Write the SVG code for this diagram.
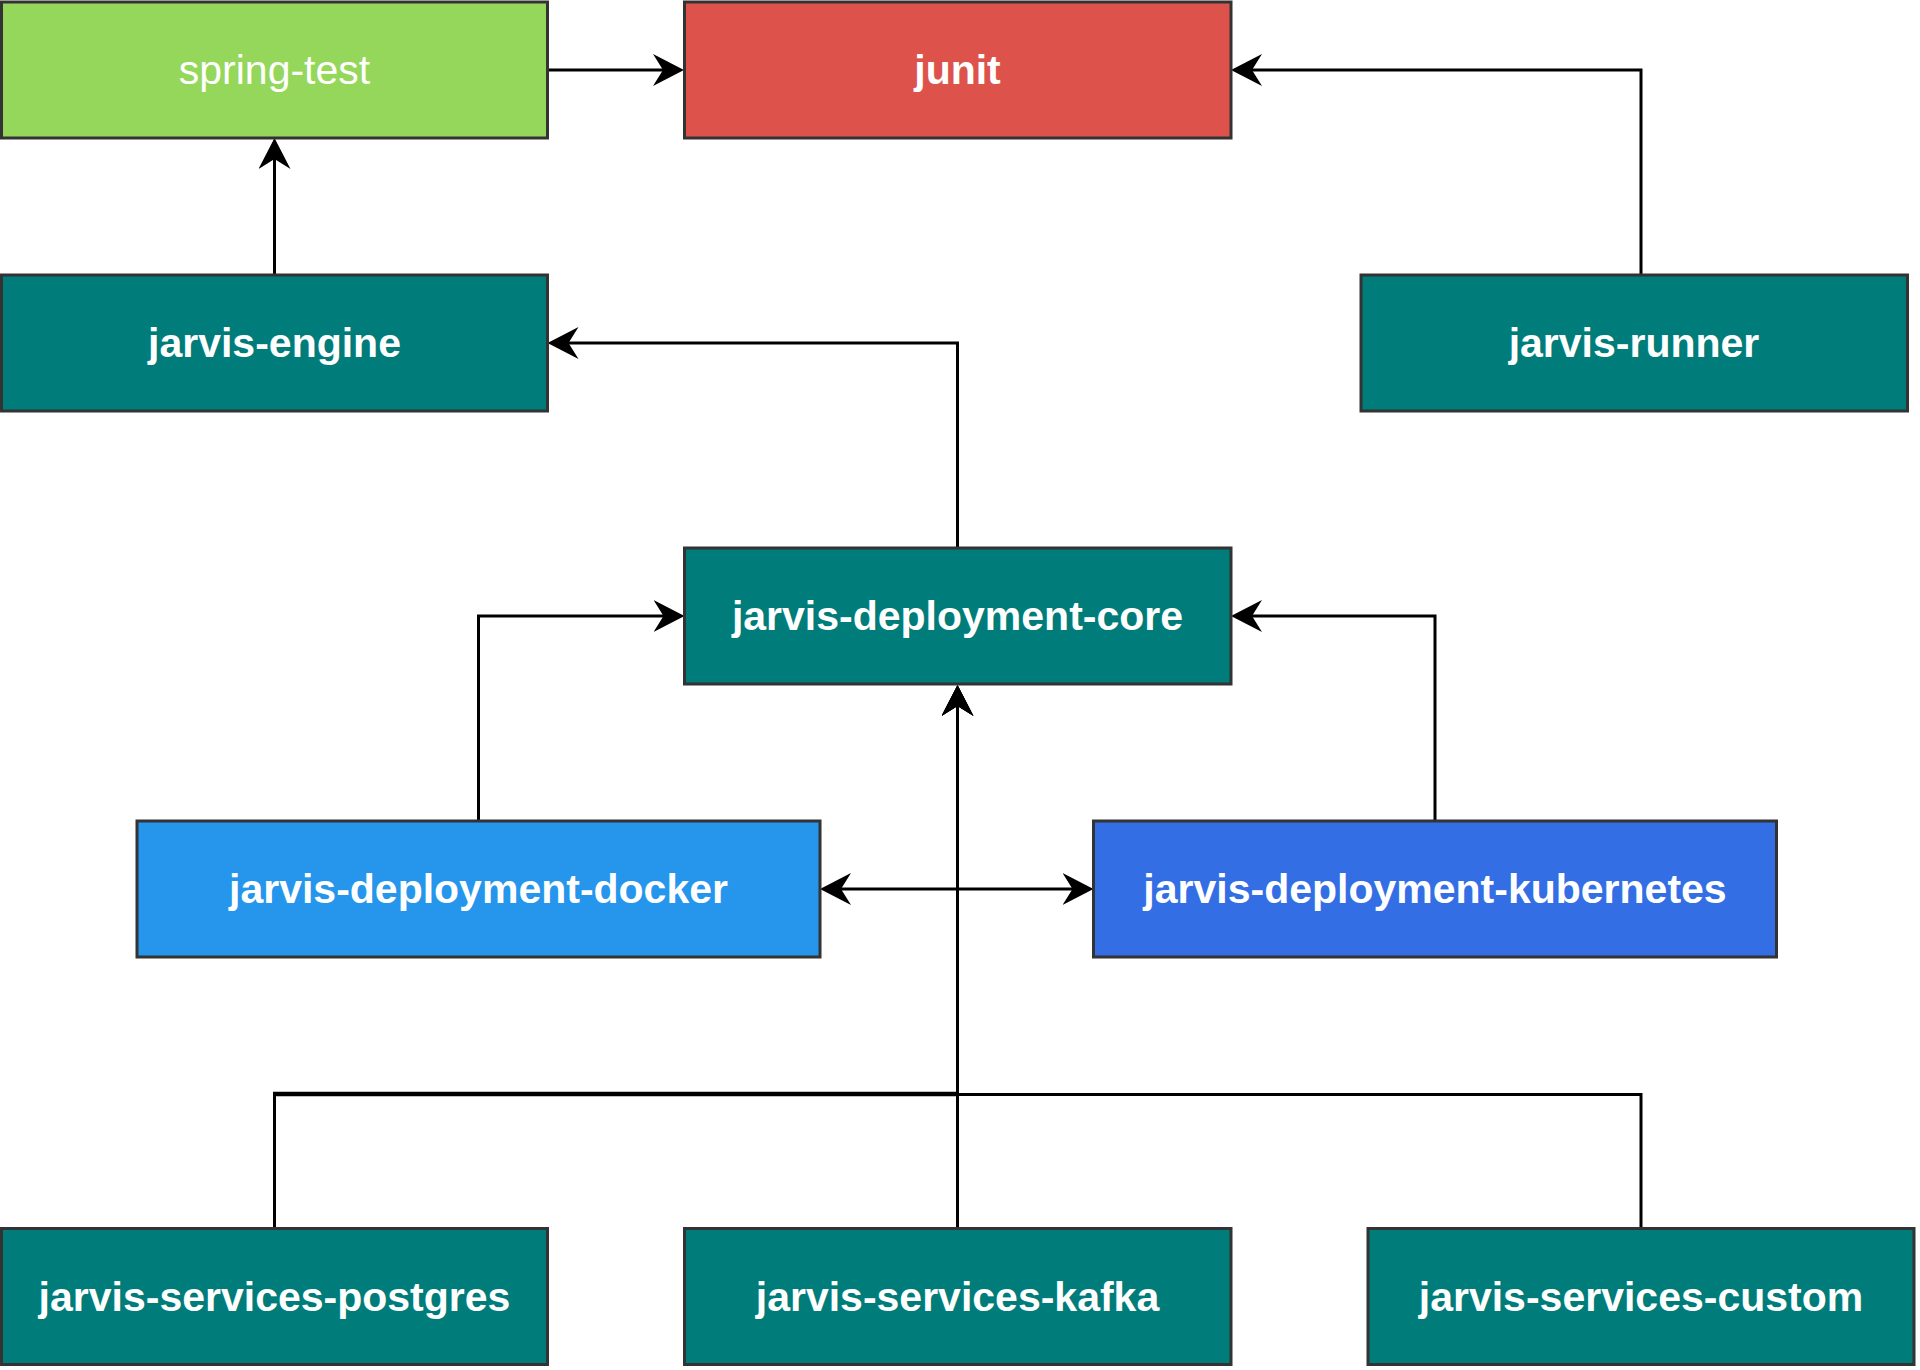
<svg xmlns="http://www.w3.org/2000/svg" width="1920" height="1370" viewBox="0 0 1920 1370">
<defs>
<style>
.node{stroke:#333333;stroke-width:3}
.teal{fill:#007D7A}
.lbl{font-family:"Liberation Sans",Arial,sans-serif;font-size:41px;font-weight:bold;fill:#ffffff;text-anchor:middle}
.reg{font-weight:normal}
.edge{fill:none;stroke:#000000;stroke-width:3}
</style>
<marker id="arr" markerUnits="userSpaceOnUse" viewBox="0 0 31 32" refX="21" refY="16" markerWidth="31" markerHeight="32" orient="auto-start-reverse">
<path d="M31,16 L0,0 L10,16 L0,32 Z" fill="#000000"/>
</marker>
</defs>
<rect width="1920" height="1370" fill="#ffffff"/>
<g id="connectors">
<path class="edge" d="M547.5,70 L674,70" marker-end="url(#arr)"/>
<path class="edge" d="M274.5,275 L274.5,148" marker-end="url(#arr)"/>
<path class="edge" d="M1641,275 L1641,70 L1241,70" marker-end="url(#arr)"/>
<path class="edge" d="M957.5,548 L957.5,343 L557.5,343" marker-end="url(#arr)"/>
<path class="edge" d="M478.5,821 L478.5,616 L674.5,616" marker-end="url(#arr)"/>
<path class="edge" d="M1435,821 L1435,616 L1241,616" marker-end="url(#arr)"/>
<path class="edge" d="M957.5,1228 L957.5,695" marker-end="url(#arr)"/>
<path class="edge" d="M274.5,1228 L274.5,1094.5 L957.5,1094.5 L957.5,695" marker-end="url(#arr)"/>
<path class="edge" style="stroke-width:4.5" d="M273,1094 L957.5,1094"/>
<path class="edge" d="M1641,1228 L1641,1094.5 L957.5,1094.5 L957.5,695" marker-end="url(#arr)"/>
<path class="edge" d="M830,889 L1083.5,889" marker-start="url(#arr)" marker-end="url(#arr)"/>
</g>
<g id="spring-test">
<rect class="node" x="1.5" y="2" width="546" height="136" fill="#95D75A"/>
<text class="lbl reg" x="274.5" y="84">spring-test</text>
</g>
<g id="junit">
<rect class="node" x="684.5" y="2" width="546.5" height="136" fill="#DD534C"/>
<text class="lbl" x="957.5" y="84">junit</text>
</g>
<g id="jarvis-engine">
<rect class="node teal" x="1.5" y="275" width="546" height="136"/>
<text class="lbl" x="274.5" y="357">jarvis-engine</text>
</g>
<g id="jarvis-runner">
<rect class="node teal" x="1361" y="275" width="546.5" height="136"/>
<text class="lbl" x="1634" y="357">jarvis-runner</text>
</g>
<g id="jarvis-deployment-core">
<rect class="node teal" x="684.5" y="548" width="546.5" height="136"/>
<text class="lbl" x="957.5" y="630">jarvis-deployment-core</text>
</g>
<g id="jarvis-deployment-docker">
<rect class="node" x="137" y="821" width="683" height="136" fill="#2596EC"/>
<text class="lbl" x="478.5" y="903">jarvis-deployment-docker</text>
</g>
<g id="jarvis-deployment-kubernetes">
<rect class="node" x="1093.5" y="821" width="683" height="136" fill="#346EE4"/>
<text class="lbl" x="1435" y="903">jarvis-deployment-kubernetes</text>
</g>
<g id="jarvis-services-postgres">
<rect class="node teal" x="1.5" y="1228.5" width="546" height="136"/>
<text class="lbl" x="274.5" y="1310.5">jarvis-services-postgres</text>
</g>
<g id="jarvis-services-kafka">
<rect class="node teal" x="684.5" y="1228.5" width="546.5" height="136"/>
<text class="lbl" x="957.5" y="1310.5">jarvis-services-kafka</text>
</g>
<g id="jarvis-services-custom">
<rect class="node teal" x="1368" y="1228.5" width="546" height="136"/>
<text class="lbl" x="1641" y="1310.5">jarvis-services-custom</text>
</g>
</svg>
